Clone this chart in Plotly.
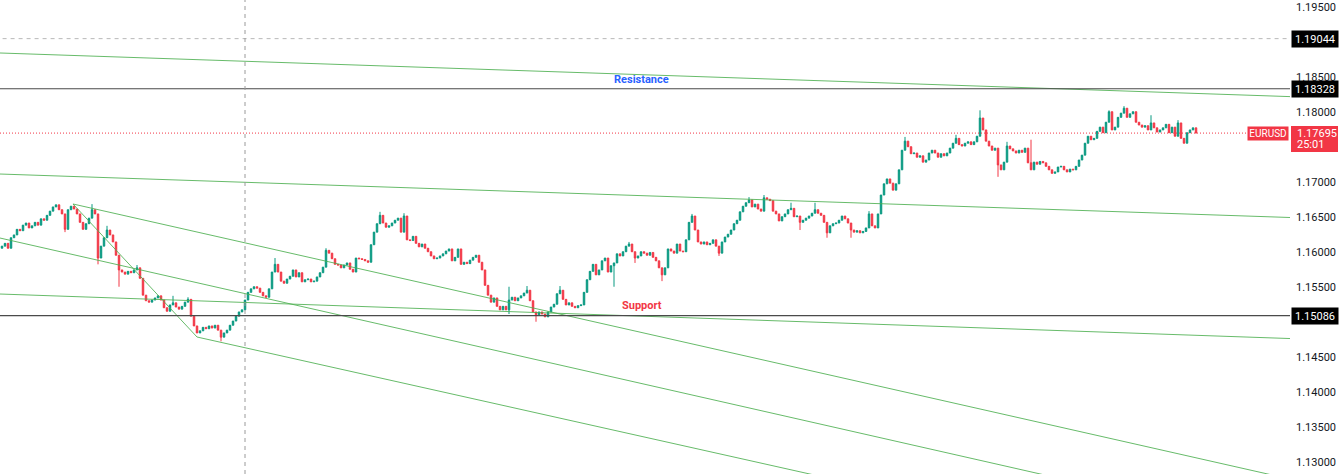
import plotly.graph_objects as go

# ---------------- data ----------------
first_open = 1.1605
closes = [
    1.1608, 1.1612, 1.1605, 1.1620, 1.1624, 1.1632, 1.1630, 1.1638, 1.1641, 1.1634,
    1.1637, 1.1642, 1.1638, 1.1647, 1.1645, 1.1652, 1.1658, 1.1664, 1.1667, 1.1660,
    1.1654, 1.1632, 1.1660, 1.1665, 1.1661, 1.1654, 1.1642, 1.1632, 1.1640, 1.1648,
    1.1660, 1.1654, 1.1591, 1.1608, 1.1620, 1.1631, 1.1624, 1.1614, 1.1595, 1.1574,
    1.1571, 1.1568, 1.1572, 1.1570, 1.1574, 1.1577, 1.1562, 1.1538, 1.1530, 1.1528,
    1.1531, 1.1534, 1.1537, 1.1531, 1.1520, 1.1515, 1.1524, 1.1527, 1.1521, 1.1518,
    1.1522, 1.1528, 1.1532, 1.1508, 1.1494, 1.1484, 1.1487, 1.1492, 1.1490, 1.1494,
    1.1491, 1.1495, 1.1488, 1.1478, 1.1484, 1.1488, 1.1495, 1.1501, 1.1508, 1.1514,
    1.1517, 1.1531, 1.1542, 1.1547, 1.1550, 1.1548, 1.1542, 1.1537, 1.1535, 1.1547,
    1.1571, 1.1582, 1.1571, 1.1558, 1.1555, 1.1561, 1.1565, 1.1574, 1.1564, 1.1570,
    1.1557, 1.1560, 1.1561, 1.1557, 1.1558, 1.1564, 1.1570, 1.1578, 1.1602, 1.1598,
    1.1590, 1.1582, 1.1581, 1.1577, 1.1581, 1.1584, 1.1575, 1.1571, 1.1591, 1.1590,
    1.1589, 1.1587, 1.1585, 1.1610, 1.1628, 1.1640, 1.1652, 1.1641, 1.1635, 1.1637,
    1.1641, 1.1645, 1.1648, 1.1628, 1.1651, 1.1617, 1.1616, 1.1622, 1.1612, 1.1607,
    1.1611, 1.1605, 1.1600, 1.1594, 1.1590, 1.1591, 1.1594, 1.1597, 1.1601, 1.1604,
    1.1587, 1.1592, 1.1604, 1.1582, 1.1585, 1.1583, 1.1588, 1.1592, 1.1595, 1.1585,
    1.1574, 1.1552, 1.1538, 1.1528, 1.1534, 1.1522, 1.1517, 1.1522, 1.1517, 1.1531,
    1.1535, 1.1530, 1.1534, 1.1537, 1.1541, 1.1545, 1.1530, 1.1514, 1.1510, 1.1514,
    1.1511, 1.1507, 1.1514, 1.1521, 1.1525, 1.1540, 1.1545, 1.1532, 1.1524, 1.1527,
    1.1522, 1.1520, 1.1523, 1.1524, 1.1542, 1.1560, 1.1572, 1.1582, 1.1567, 1.1574,
    1.1587, 1.1591, 1.1571, 1.1580, 1.1584, 1.1597, 1.1594, 1.1600, 1.1608, 1.1611,
    1.1600, 1.1591, 1.1594, 1.1600, 1.1598, 1.1595, 1.1599, 1.1592, 1.1587, 1.1577,
    1.1567, 1.1577, 1.1604, 1.1601, 1.1598, 1.1611, 1.1601, 1.1600, 1.1617, 1.1642,
    1.1651, 1.1631, 1.1614, 1.1611, 1.1614, 1.1610, 1.1612, 1.1617, 1.1608, 1.1598,
    1.1614, 1.1621, 1.1625, 1.1631, 1.1640, 1.1645, 1.1657, 1.1665, 1.1670, 1.1674,
    1.1664, 1.1668, 1.1661, 1.1658, 1.1677, 1.1675, 1.1673, 1.1658, 1.1654, 1.1644,
    1.1650, 1.1654, 1.1660, 1.1662, 1.1650, 1.1651, 1.1642, 1.1645, 1.1648, 1.1651,
    1.1655, 1.1660, 1.1655, 1.1652, 1.1642, 1.1627, 1.1637, 1.1640, 1.1641, 1.1645,
    1.1651, 1.1647, 1.1641, 1.1631, 1.1628, 1.1630, 1.1627, 1.1629, 1.1634, 1.1654,
    1.1637, 1.1634, 1.1654, 1.1681, 1.1697, 1.1704, 1.1698, 1.1688, 1.1697, 1.1717,
    1.1745, 1.1758, 1.1750, 1.1740, 1.1741, 1.1735, 1.1737, 1.1728, 1.1731, 1.1741,
    1.1745, 1.1741, 1.1735, 1.1740, 1.1737, 1.1741, 1.1748, 1.1755, 1.1762, 1.1753,
    1.1751, 1.1755, 1.1757, 1.1753, 1.1757, 1.1765, 1.1791, 1.1774, 1.1758, 1.1751,
    1.1745, 1.1748, 1.1724, 1.1717, 1.1728, 1.1751, 1.1747, 1.1744, 1.1741, 1.1745,
    1.1742, 1.1748, 1.1727, 1.1717, 1.1728, 1.1725, 1.1729, 1.1727, 1.1722, 1.1717,
    1.1712, 1.1714, 1.1721, 1.1722, 1.1717, 1.1714, 1.1718, 1.1717, 1.1722, 1.1731,
    1.1738, 1.1755, 1.1765, 1.1760, 1.1762, 1.1772, 1.1778, 1.1770, 1.1785, 1.1800,
    1.1774, 1.1778, 1.1792, 1.1798, 1.1805, 1.1792, 1.1797, 1.1800, 1.1785, 1.1781,
    1.1778, 1.1780, 1.1774, 1.1784, 1.1777, 1.1771, 1.1774, 1.1777, 1.1782, 1.1770,
    1.1778, 1.1765, 1.1784, 1.1762, 1.1755, 1.1770, 1.1774, 1.1777, 1.17695,
]
# notable wick extremes (candle index -> price)
wick_highs = {30: 1.1668, 35: 1.1637, 45: 1.1581, 57: 1.1537, 62: 1.1535, 91: 1.1591,
              108: 1.1605, 126: 1.1657, 134: 1.1655, 169: 1.1550, 175: 1.1551, 186: 1.1551,
              209: 1.1614, 230: 1.1654, 249: 1.1678, 254: 1.1681, 263: 1.1670, 271: 1.1670,
              289: 1.1658, 301: 1.1764, 318: 1.1767, 326: 1.1802, 335: 1.1757, 343: 1.1760,
              369: 1.1802, 374: 1.1808, 383: 1.1795, 392: 1.1788}
wick_lows = {21: 1.1628, 32: 1.1582, 39: 1.1550, 73: 1.1472, 169: 1.1511, 178: 1.1500,
             204: 1.1550, 211: 1.1584, 220: 1.1558, 239: 1.1594, 266: 1.1631, 275: 1.1620,
             283: 1.1620, 332: 1.1707}

symbol = "EURUSD"
last_price = 1.17695
countdown = "25:01"
resistance_level = 1.18328
support_level = 1.15086
upper_level = 1.19044
crosshair_index = 81.0
# tick labels visible on the price scale (1.150, 1.175 and 1.190 sit under the level boxes)
y_ticks = [1.130, 1.135, 1.140, 1.145, 1.155, 1.160, 1.165,
           1.170, 1.180, 1.185, 1.195]
# trend lines: (start index, start price, end index, end price)
trendlines = [
    (-0.67, 1.18839, 429.33, 1.18216),
    (-0.67, 1.17110, 429.33, 1.16489),
    (-0.67, 1.15396, 429.33, 1.14760),
    (23.66, 1.16682, 429.33, 1.12753),
    (-0.67, 1.16196, 360.0, 1.12690),
    (65.0, 1.14782, 280.0, 1.12722),
    (23.66, 1.16682, 65.0, 1.14782),
]
resistance_label = ("Resistance", 213.3, 1.18467)
support_label = ("Support", 213.3, 1.15239)
x_range = [-0.67, 429.33]
y_range = [1.12825, 1.19596]

# ---------------- build candles ----------------
idx = list(range(len(closes)))
opens = [first_open] + closes[:-1]
highs = [max(o, c) for o, c in zip(opens, closes)]
lows = [min(o, c) for o, c in zip(opens, closes)]
for k, v in wick_highs.items():
    highs[k] = max(highs[k], v)
for k, v in wick_lows.items():
    lows[k] = min(lows[k], v)

UP = "#089981"
DOWN = "#f23645"
FONT = "Roboto, 'Liberation Sans', sans-serif"

fig = go.Figure()
fig.add_trace(go.Candlestick(
    x=idx, open=opens, high=highs, low=lows, close=closes,
    increasing=dict(line=dict(color=UP, width=1), fillcolor=UP),
    decreasing=dict(line=dict(color=DOWN, width=1), fillcolor=DOWN),
    whiskerwidth=0, showlegend=False, hoverinfo="skip",
))

shapes = []
for (x0, y0, x1, y1) in trendlines:
    shapes.append(dict(type="line", xref="x", yref="y", x0=x0, y0=y0, x1=x1, y1=y1,
                       line=dict(color="rgba(76,175,80,0.85)", width=1), layer="above"))
shapes.append(dict(type="line", xref="paper", yref="y", x0=0, x1=1,
                   y0=resistance_level, y1=resistance_level,
                   line=dict(color="#4a4a4a", width=1.2)))
shapes.append(dict(type="line", xref="paper", yref="y", x0=0, x1=1,
                   y0=support_level, y1=support_level,
                   line=dict(color="#4a4a4a", width=1.2)))
shapes.append(dict(type="line", xref="paper", yref="y", x0=0.002, x1=1,
                   y0=upper_level, y1=upper_level,
                   line=dict(color="#b8b8b8", width=1, dash="4px,4px")))
shapes.append(dict(type="line", xref="x", yref="paper", x0=crosshair_index, x1=crosshair_index,
                   y0=0, y1=1, line=dict(color="#9a9a9a", width=1, dash="4px,4px")))
shapes.append(dict(type="line", xref="paper", yref="y", x0=0, x1=1247 / 1290,
                   y0=last_price, y1=last_price,
                   line=dict(color=DOWN, width=1, dash="1px,2px")))
# last-price box on the scale (two lines: price and countdown)
shapes.append(dict(type="rect", xref="paper", yref="y", xsizemode="pixel", ysizemode="pixel",
                   xanchor=1, yanchor=last_price, x0=1, x1=48, y0=-19, y1=7,
                   fillcolor=DOWN, line=dict(width=0), layer="above"))

annotations = []
for txt, xi, yp, col in [(resistance_label[0], resistance_label[1], resistance_label[2], "#2962ff"),
                         (support_label[0], support_label[1], support_label[2], DOWN)]:
    annotations.append(dict(x=xi, y=yp, xref="x", yref="y", text="<b>%s</b>" % txt,
                            showarrow=False, font=dict(family=FONT, size=11, color=col)))

for lvl in [upper_level, resistance_level, support_level]:
    annotations.append(dict(x=1, y=lvl, xref="paper", yref="y", xanchor="left", yanchor="middle",
                            xshift=1, text="%.5f" % lvl, showarrow=False, align="center",
                            width=44, height=14, borderpad=1, bgcolor="#000000",
                            font=dict(family=FONT, size=11, color="#ffffff")))

annotations.append(dict(x=1, y=last_price, xref="paper", yref="y", xanchor="right", yanchor="middle",
                        xshift=-1, text=symbol, showarrow=False, width=38, height=11, borderpad=1,
                        bgcolor=DOWN, font=dict(family=FONT, size=10, color="#ffffff")))
annotations.append(dict(x=1, y=last_price, xref="paper", yref="y", xanchor="left", yanchor="middle",
                        xshift=6, yshift=0, text="%.5f" % last_price, showarrow=False,
                        borderpad=0, font=dict(family=FONT, size=11, color="#ffffff")))
annotations.append(dict(x=1, y=last_price, xref="paper", yref="y", xanchor="left", yanchor="middle",
                        xshift=6, yshift=-11, text=countdown, showarrow=False,
                        borderpad=0, font=dict(family=FONT, size=11, color="#ffffff")))

fig.update_layout(
    width=1342, height=474,
    margin=dict(l=0, r=52, t=0, b=0),
    paper_bgcolor="white", plot_bgcolor="white",
    xaxis=dict(visible=False, range=x_range, rangeslider=dict(visible=False), fixedrange=True),
    yaxis=dict(side="right", range=y_range, tickvals=y_ticks, fixedrange=True,
               ticktext=["%.5f" % t for t in y_ticks], showgrid=False, zeroline=False,
               showline=False, ticks="", ticklabelstandoff=5,
               tickfont=dict(family=FONT, size=11, color="#131722")),
    shapes=shapes, annotations=annotations,
    font=dict(family=FONT),
    hovermode=False,
)

fig.write_html("out.html", config={"displayModeBar": False, "staticPlot": True},
               post_script="document.body.style.margin='0';document.body.style.overflow='hidden';")
